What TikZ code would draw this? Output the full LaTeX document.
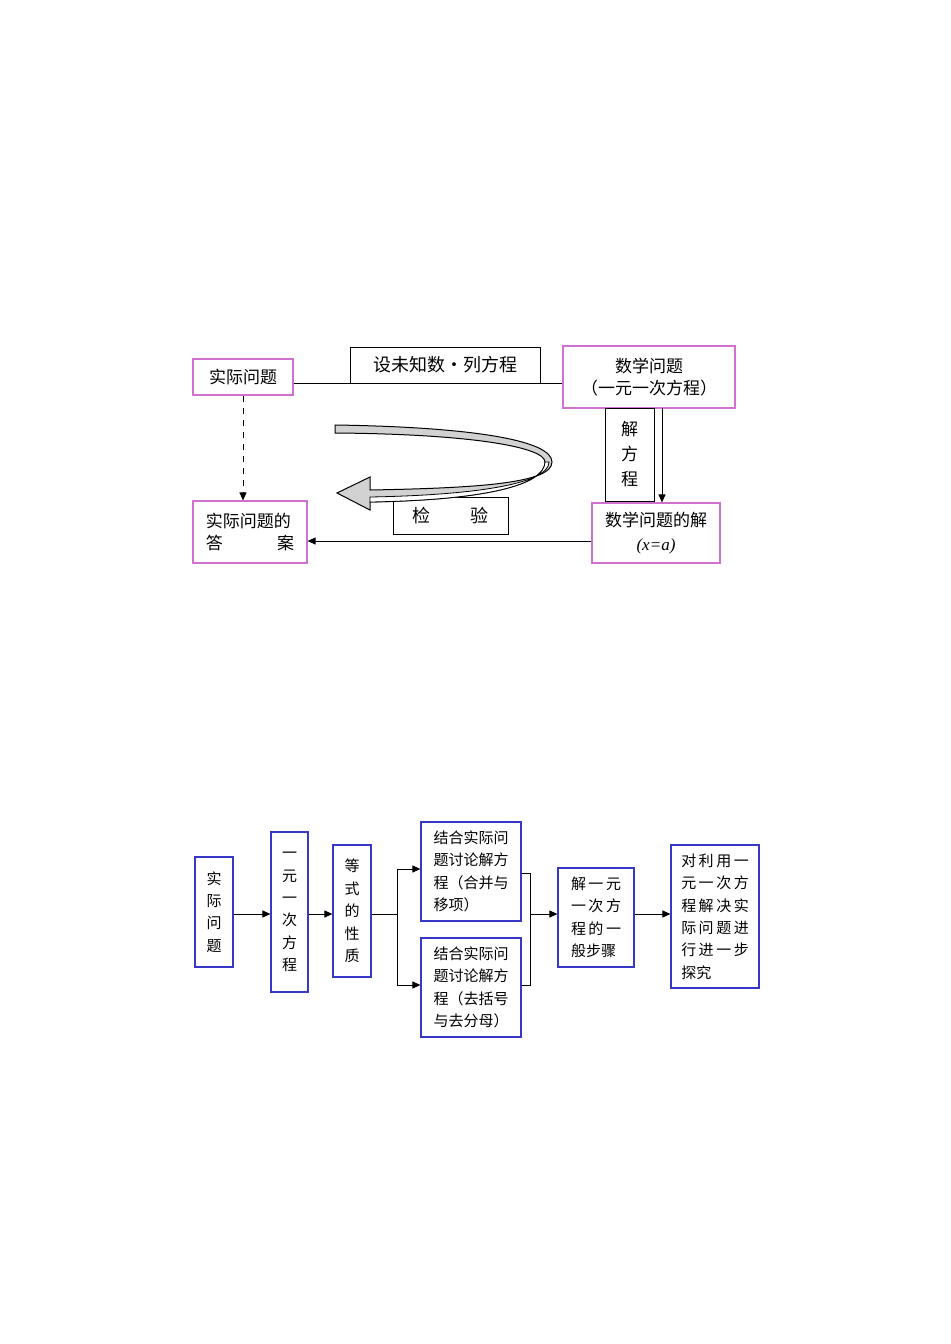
\documentclass[tikz,border=0pt]{standalone}
\usepackage{fontspec}
\setmainfont{Noto Sans CJK SC}
\newfontfamily\latinit{Liberation Serif}
\usetikzlibrary{arrows.meta}
\definecolor{pk}{HTML}{D070D0}
\definecolor{bl}{HTML}{3838C8}
\begin{document}
\begin{tikzpicture}[x=0.5pt,y=-0.5pt,
  pbox/.style={draw=pk,line width=0.6pt,inner sep=1pt,font=\fontsize{8.5}{11}\selectfont,align=center},
  kbox/.style={draw=black,line width=0.5pt,inner sep=1pt,font=\fontsize{9}{11}\selectfont,align=center},
  bbox/.style={draw=bl,line width=0.6pt,inner sep=2pt,font=\fontsize{7.5}{11.2}\selectfont,align=left},
  arr/.style={-{Triangle[length=4pt,width=3.5pt]},line width=0.5pt},
  ln/.style={line width=0.5pt}]
\useasboundingbox (0,0) rectangle (950,1344);
% top diagram
\node[pbox,minimum width=50pt,minimum height=18pt] (a1) at (243,377) {实际问题};
\node[pbox,minimum width=86pt,minimum height=31pt] (m) at (649,377) {数学问题\\（一元一次方程）};
\draw[ln] (a1.east|-0,383) coordinate (l1) -- (m.west|-0,383) coordinate (l2);
\node[kbox,minimum width=95pt,minimum height=18pt,fill=white] (set) at (445,365) {设未知数·列方程};
\node[kbox,minimum width=24.5pt,minimum height=46.5pt,font=\fontsize{8.5}{12.5}\selectfont] (jfc) at (629.5,454.5) {解\\方\\程};
\node[pbox,minimum width=64pt,minimum height=30pt] (sol) at (656,533) {数学问题的解\\[1pt]{\latinit\itshape (x=a)}};
\node[pbox,minimum width=57pt,minimum height=31pt,align=left] (ans) at (250,532) {实际问题的\\答\hspace{3.2em}案};
\node[kbox,minimum width=57.5pt,minimum height=18.5pt] (jy) at (450.5,515.5) {检\hspace{2.2em}验};
\draw[arr] (662,408) coordinate (s1) -- (s1|-sol.north);
\draw[arr,dashed] (a1.south) -- (ans.north-|a1.south);
\draw[arr] (sol.west|-0,541) coordinate (s2) -- (ans.east|-s2);
% curved arrow
\draw[line width=0.5pt,fill=gray!35] (335,425) .. controls (470,427) and (552,440) .. (552,462)
  .. controls (552,483) and (480,488) .. (370,490) -- (370,477) -- (337,493) -- (370,510) -- (370,502)
  .. controls (485,500) and (545,485) .. (545,462)
  .. controls (545,447) and (470,434) .. (335,433) -- cycle;
\draw[line width=0.4pt,fill=white] (545,462) .. controls (545,485) and (485,500) .. (370,502) -- (370,497)
  .. controls (480,495) and (549,483) .. (549,462) -- cycle;
% bottom diagram
\node[bbox,minimum width=19pt,minimum height=55pt,align=center] (b1) at (214,912) {实\\际\\问\\题};
\node[bbox,minimum width=18.5pt,minimum height=80pt,align=center] (b2) at (289.5,912) {一\\元\\一\\次\\方\\程};
\node[bbox,minimum width=19pt,minimum height=66pt,align=center] (b3) at (352,911) {等\\式\\的\\性\\质};
\node[bbox,minimum width=50pt,minimum height=49.5pt] (b4) at (471,871.5) {结合实际问\\题讨论解方\\程（合并与\\移项）};
\node[bbox,minimum width=50pt,minimum height=49.5pt] (b5) at (471,987.5) {结合实际问\\题讨论解方\\程（去括号\\与去分母）};
\node[bbox,minimum width=38pt,minimum height=49.5pt] (b6) at (596,917.5) {解\,一\,元\\一\,次\,方\\程\,的\,一\\般步骤};
\node[bbox,minimum width=44pt,minimum height=71.5pt] (b7) at (715,916.5) {对\,利\,用\,一\\元\,一\,次\,方\\程\,解\,决\,实\\际\,问\,题\,进\\行\,进\,一\,步\\探究\hspace{4.5em}};
\draw[arr] (b1.east|-0,914) coordinate (c1) -- (b2.west|-c1);
\draw[arr] (b2.east|-0,914) coordinate (c2) -- (b3.west|-c2);
\coordinate (sp) at (397,914);
\draw[ln] (b3.east|-sp) -- (sp);
\draw[arr] (sp) |- (b4.west|-0,869);
\draw[arr] (sp) |- (b5.west|-0,985);
\coordinate (jn) at (530,914);
\draw[ln] (b4.east|-0,873) -| (jn);
\draw[ln] (b5.east|-0,985) -| (jn);
\draw[arr] (jn) -- (b6.west|-jn);
\draw[arr] (b6.east|-0,914) coordinate (c3) -- (b7.west|-c3);
\end{tikzpicture}
\end{document}
